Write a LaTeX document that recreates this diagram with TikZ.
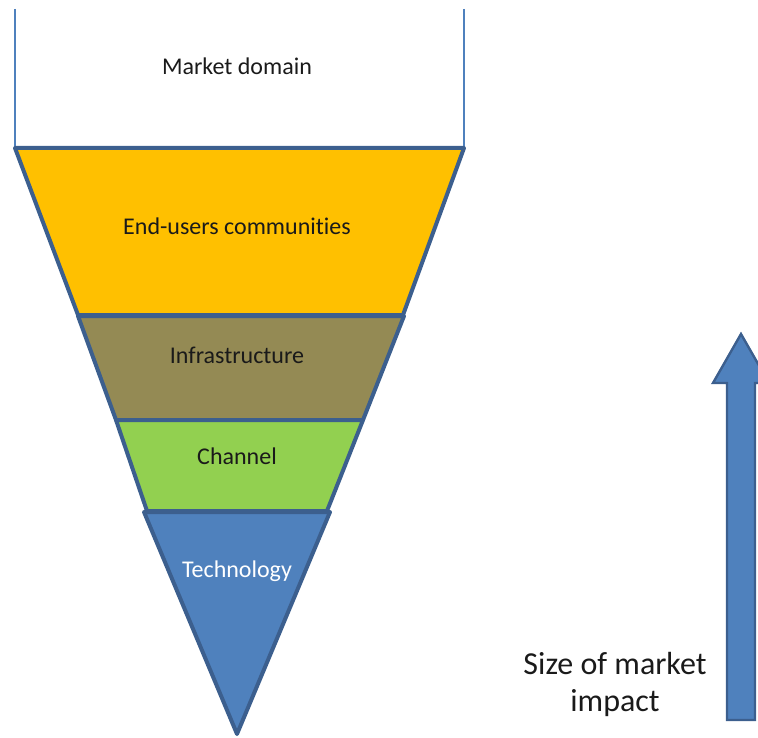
\documentclass[tikz,border=0pt]{standalone}
\usepackage{fontspec}
\setmainfont{Carlito}[Ligatures=NoCommon]
\definecolor{edge}{HTML}{3C5F8E}
\definecolor{mdline}{HTML}{4F81BD}
\definecolor{yel}{HTML}{FFC000}
\definecolor{olive}{HTML}{948A54}
\definecolor{grn}{HTML}{92D050}
\definecolor{blu}{HTML}{4F81BD}
\definecolor{txt}{HTML}{1A1A1A}
\tikzset{
  layer/.style={draw=edge, line width=4pt, line join=round},
  lbl/.style={font=\fontsize{24}{28}\selectfont, text=txt, inner sep=0pt},
  big/.style={font=\fontsize{32}{37}\selectfont, text=txt, align=center, inner sep=0pt}
}
\begin{document}
\begin{tikzpicture}[x=1pt,y=-1pt]
\useasboundingbox (0,0) rectangle (758,738);
\clip (0,0) rectangle (758,738);
% market domain box sides
\draw[draw=mdline, line width=2pt] (15,9) -- (15,148);
\draw[draw=mdline, line width=2pt] (464,9) -- (464,148);
% layers
\draw[layer, fill=yel] (15,148) -- (464,148) -- (403,315) -- (78,315) -- cycle;
\draw[layer, fill=olive] (78,316) -- (404,316) -- (363,420) -- (116,420) -- cycle;
\draw[layer, fill=grn] (116,420) -- (363,420) -- (327,511) -- (147,511) -- cycle;
\draw[layer, fill=blu] (144,512) -- (330,512) -- (237,734) -- cycle;
% arrow
\draw[draw=edge, fill=blu, line width=2.4pt, line join=miter]
  (727,720) -- (727,383) -- (713,383) -- (741,334) -- (769,383) -- (755,383) -- (755,720) -- cycle;
% labels
\node[lbl] (market) at (237,66) {Market domain};
\node[lbl] (users) at (237,226) {End-users communities};
\node[lbl] (infra) at (237,355) {Infrastructure};
\node[lbl] (chan) at (237,456) {Channel};
\node[lbl, text=white] (tech) at (237,571) {Technology};
\node[big] (size) at (615,684) {Size of market\\impact};
\end{tikzpicture}
\end{document}
